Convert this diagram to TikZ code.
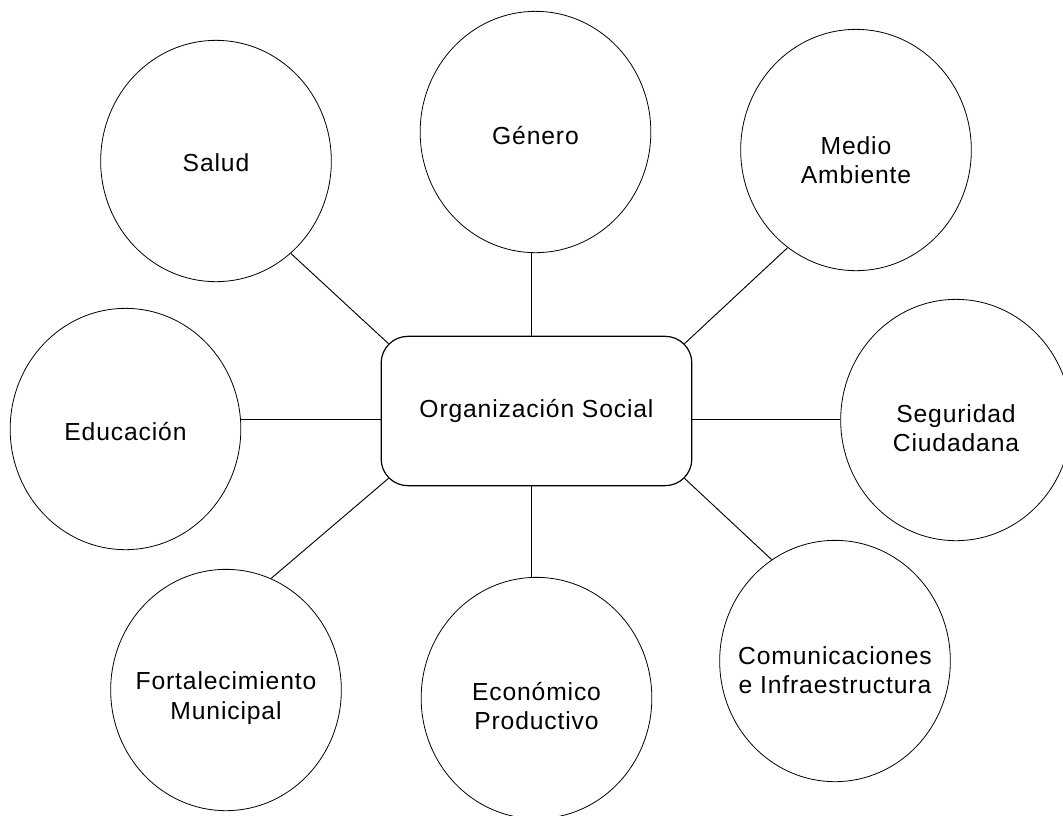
\documentclass[tikz,border=0pt]{standalone}
\usepackage{fontspec}
\usepackage{tikz}
\usetikzlibrary{shapes.geometric}
\newfontfamily\arial[LetterSpace=3.5]{Liberation Sans}
\newcommand{\tematxt}{\arial\fontsize{18.5pt}{22.2pt}\selectfont}

\begin{document}
\begin{tikzpicture}[x=0.75pt,y=-0.75pt,
  tema/.style={draw,ellipse,line width=0.6pt,minimum width=173pt,minimum height=181pt,inner sep=0pt},
  rotulo/.style={align=center,font=\tematxt},
  eje/.style={draw,rounded corners=20pt,line width=0.9pt,minimum width=233pt,minimum height=112pt,font=\tematxt},
  enlace/.style={line width=0.7pt}]
\useasboundingbox (0,0) rectangle (1063,815);

% Centre box
\node[eje] (org) at (536.5,411) {Organización Social};

% Circles
\node[tema,label={[rotulo,yshift=-1.5pt]center:Salud}] (salud) at (216,161) {};
\node[tema,label={[rotulo,yshift=-3pt]center:Género}] (genero) at (535.5,132) {};
\node[tema,label={[rotulo,yshift=-7.5pt]center:{Medio\\Ambiente}}] (medio) at (856,150) {};
\node[tema,label={[rotulo,yshift=-2pt]center:Educación}] (edu) at (125.5,429) {};
\node[tema,label={[rotulo,yshift=-6pt]center:{Seguridad\\Ciudadana}}] (seg) at (956,420) {};
\node[tema,label={[rotulo,yshift=-6pt]center:{Fortalecimiento\\Municipal}}] (fort) at (226,690) {};
\node[tema,label={[rotulo,yshift=-6pt]center:{Económico\\Productivo}}] (eco) at (536.5,698) {};
\node[tema,label={[rotulo,yshift=-7pt]center:{Comunicaciones\\e Infraestructura}}] (com) at (835,661) {};

% Helper points
\coordinate (fila) at (0,419);
\coordinate (columna) at (531,0);
\coordinate (onw) at ([shift={(8,8)}]org.north west);
\coordinate (one) at ([shift={(-8,8)}]org.north east);
\coordinate (osw) at ([shift={(8,-8)}]org.south west);
\coordinate (ose) at ([shift={(-8,-8)}]org.south east);

% Connectors
\draw[enlace] (salud.-51) -- (onw);
\draw[enlace] (genero.south -| columna) -- (org.north -| columna);
\draw[enlace] (medio.235) -- (one);
\draw[enlace] (edu.east |- fila) -- (org.west |- fila);
\draw[enlace] (org.east |- fila) -- (seg.west |- fila);
\draw[enlace] (fort.68) -- (osw);
\draw[enlace] (org.south -| columna) -- (eco.north -| columna);
\draw[enlace] (com.122) -- (ose);
\end{tikzpicture}
\end{document}
